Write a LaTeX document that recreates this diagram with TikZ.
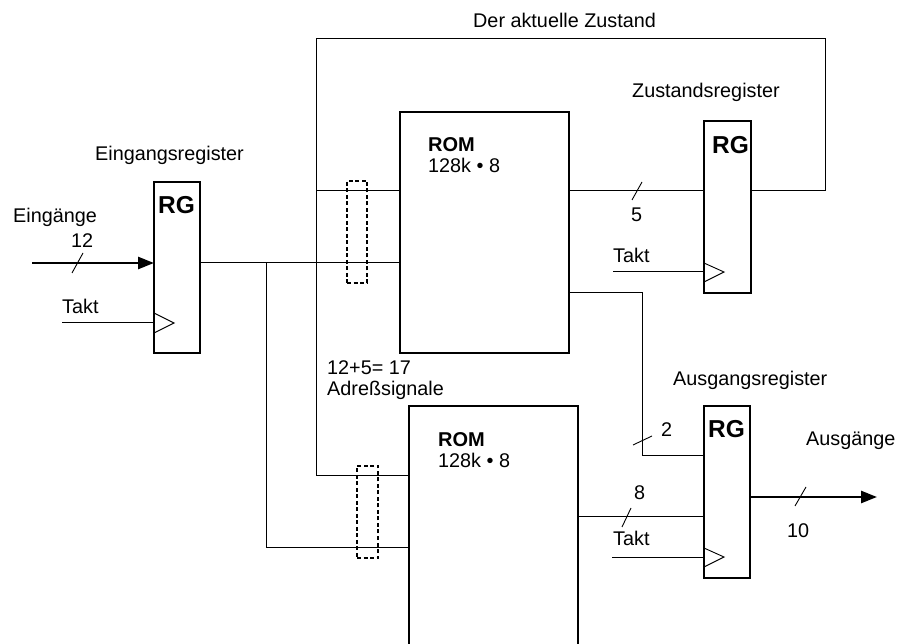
\documentclass[tikz,border=0pt]{standalone}
\usepackage{fontspec}
\setmainfont{Liberation Sans}
\usetikzlibrary{arrows.meta}
\begin{document}
\begin{tikzpicture}[x=1pt,y=-1pt,
  box/.style={draw, line width=2pt, inner sep=0pt, outer sep=0pt},
  wire/.style={line width=1pt},
  bus/.style={line width=2.6pt, -{Triangle[length=16pt,width=12pt]}},
  latch/.style={draw, line width=1.4pt, dash pattern=on 4pt off 2.5pt, inner sep=0pt},
  lbl/.style={anchor=base west, inner sep=0pt, font=\fontsize{19.8}{23}\selectfont},
  rgt/.style={anchor=base west, inner sep=0pt, font=\bfseries\fontsize{24.5}{28}\selectfont},
  romt/.style={anchor=base west, inner sep=0pt, font=\bfseries\fontsize{20}{23}\selectfont},
  clk/.style={line width=0.9pt},
  slash/.style={line width=0.9pt},
]
\useasboundingbox (0,0) rectangle (898,644);
\clip (0,0) rectangle (898,644);

% boxes
\node[box, minimum width=46pt, minimum height=171pt] (rg1) at (177,267.5) {};
\node[box, minimum width=169pt, minimum height=241pt] (rom1) at (484.5,232.5) {};
\node[box, minimum width=47pt, minimum height=172pt] (rg2) at (727.5,207) {};
\node[box, minimum width=46pt, minimum height=172pt] (rg3) at (727,492) {};
\node[box, minimum width=169pt, minimum height=300pt] (rom2) at (493.5,556) {};
\node[latch, minimum width=20pt, minimum height=102pt] (l1) at (357,232) {};
\node[latch, minimum width=21pt, minimum height=92pt] (l2) at (367.5,512) {};

% texts
\node[lbl] (tEinreg) at (95,161) {Eingangsregister};
\node[lbl] (tEin) at (13,223) {Eingänge};
\node[lbl] (t12) at (71,248) {12};
\node[lbl] (tTakt1) at (62,314) {Takt};
\node[rgt] (tRG1) at (158,214) {RG};
\node[romt] (tROM1) at (428,151.5) {ROM};
\node[lbl] (tSize1) at (428,173) {128k • 8};
\node[lbl] (tZreg) at (632,98) {Zustandsregister};
\node[rgt] (tRG2) at (712,154) {RG};
\node[lbl] (t5) at (631,222) {5};
\node[lbl] (tTakt2) at (613,263) {Takt};
\node[lbl] (tDer) at (473,28) {Der aktuelle Zustand};
\node[lbl] (tSum) at (327,375) {12+5= 17};
\node[lbl] (tAdr) at (327,396) {Adreßsignale};
\node[romt] (tROM2) at (438,447) {ROM};
\node[lbl] (tSize2) at (438,468) {128k • 8};
\node[lbl] (tAreg) at (673,386) {Ausgangsregister};
\node[rgt] (tRG3) at (708,438) {RG};
\node[lbl] (t2) at (661,437) {2};
\node[lbl] (tAus) at (806,446) {Ausgänge};
\node[lbl] (t8) at (634,500) {8};
\node[lbl] (t10) at (787,537) {10};
\node[lbl] (tTakt3) at (613,546) {Takt};

% coordinates
\coordinate (in) at (32,263);
\coordinate (t1) at (62,323);
\coordinate (j1) at (266,263);
\coordinate (b2) at (266,547);
\coordinate (f1) at (825,191);
\coordinate (f2) at (825,39);
\coordinate (f3) at (316,39);
\coordinate (f4) at (316,476);
\coordinate (f5) at (316,191);
\coordinate (t2c) at (613,272);
\coordinate (o1) at (642,293);
\coordinate (o2) at (642,456);
\coordinate (o3) at (640,517);
\coordinate (t3c) at (612,557);
\coordinate (out) at (877,497);

% connectors
\draw[bus] (in) -- (in -| rg1.west);
\draw[wire] (t1) -- (t1 -| rg1.west);
\draw[wire] (rg1.east |- j1) -- (j1 -| rom1.west);
\draw[wire] (j1) -- (b2) -- (b2 -| rom2.west);
\draw[wire] (rg2.east |- f1) -- (f1) -- (f2) -- (f3) -- (f4) -- (f4 -| rom2.west);
\draw[wire] (f5) -- (f5 -| rom1.west);
\draw[wire] (rom1.east |- f1) -- (f1 -| rg2.west);
\draw[wire] (t2c) -- (t2c -| rg2.west);
\draw[wire] (rom1.east |- o1) -- (o1) -- (o2) -- (o2 -| rg3.west);
\draw[wire] (rom2.east |- o3) -- (o3 -| rg3.west);
\draw[wire] (t3c) -- (t3c -| rg3.west);
\draw[bus] (rg3.east |- out) -- (out);

% clock triangles
\draw[clk] (154,313) -- (174,323) -- (154,333);
\draw[clk] (704,263) -- (724,272) -- (704,282);
\draw[clk] (704,548) -- (724,557) -- (704,567);

% bus width slashes
\draw[slash] (72,273) -- (83,253);
\draw[slash] (632,200) -- (642,182);
\draw[slash] (633,445) -- (652,436);
\draw[slash] (795,506) -- (806,487);
\draw[slash] (622,527) -- (631,508);
\end{tikzpicture}
\end{document}
